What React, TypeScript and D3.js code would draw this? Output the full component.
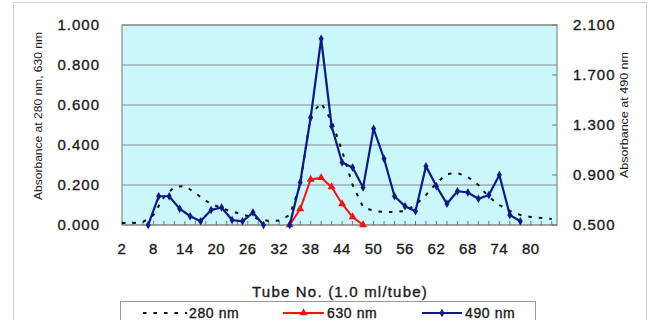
import React from 'react';
import * as d3 from 'd3';

// 280 nm (left axis), every 2 tubes
const tubes280 = [2, 4, 6, 8, 10, 12, 14, 16, 18, 20, 22, 24, 26, 28, 30, 32, 34, 36, 38, 40, 42,
  44, 46, 48, 50, 52, 54, 56, 58, 60, 62, 64, 66, 68, 70, 72, 74, 76, 78, 80, 82, 84];
const abs280 = [0.01, 0.01, 0.015, 0.05, 0.14, 0.19, 0.195, 0.16, 0.12, 0.095, 0.075, 0.06, 0.045,
  0.03, 0.02, 0.022, 0.05, 0.2, 0.55, 0.61, 0.52, 0.37, 0.2, 0.09, 0.07, 0.065, 0.065, 0.07, 0.1,
  0.15, 0.21, 0.255, 0.26, 0.24, 0.2, 0.14, 0.1, 0.07, 0.05, 0.04, 0.035, 0.03];

// 630 nm (left axis)
const tubes630 = [34, 36, 38, 40, 42, 44, 46, 48];
const abs630 = [0, 0.08, 0.228, 0.236, 0.19, 0.105, 0.04, 0];

// 490 nm (right axis); null = no reading
const tubes490 = [7, 9, 11, 13, 15, 17, 19, 21, 23, 25, 27, 29, 31,
  34, 36, 38, 40, 42, 44, 46, 48, 50, 52, 54, 56, 58, 60, 62, 64, 66, 68, 70, 72, 74, 76, 78];
const abs490: (number | null)[] = [0.5, 0.73, 0.73, 0.63, 0.57, 0.53, 0.62, 0.64, 0.54, 0.53, 0.6, 0.5, null,
  0.5, 0.84, 1.36, 1.99, 1.29, 1.0, 0.96, 0.8, 1.27, 1.03, 0.73, 0.65, 0.61, 0.97, 0.81, 0.67, 0.77,
  0.76, 0.71, 0.74, 0.9, 0.58, 0.53];

const leftTicks = [0, 0.2, 0.4, 0.6, 0.8, 1.0];
const rightTicks = [0.5, 0.9, 1.3, 1.7, 2.1];
const xLabels = [2, 8, 14, 20, 26, 32, 38, 44, 50, 56, 62, 68, 74, 80];
const xMinorTicks = d3.range(2, 86, 2);

const W = 656, H = 320;
const L = 122, R = 557, T = 25, B = 225;
const FONT = "'Liberation Sans', Arial, sans-serif";
const BLUE = '#0d1a8c';
const RED = '#ff1010';
const INK = '#1a1a1a';

export default function App() {
  const x = d3.scaleLinear().domain([2, 85]).range([L, R]);
  const yL = d3.scaleLinear().domain([0, 1]).range([B, T]);
  const yR = d3.scaleLinear().domain([0.5, 2.1]).range([B, T]);
  const fmt = d3.format('.3f');

  const pts280 = tubes280.map((t, i) => [t, abs280[i]] as [number, number]);
  const pts630 = tubes630.map((t, i) => [t, abs630[i]] as [number, number]);
  const pts490 = tubes490.map((t, i) => [t, abs490[i]] as [number, number | null]);

  const lineL = d3.line<[number, number]>().x(d => x(d[0])).y(d => yL(d[1]));
  const lineR = d3.line<[number, number | null]>()
    .defined(d => d[1] != null)
    .x(d => x(d[0])).y(d => yR(d[1] as number));

  const tri = d3.symbol().type(d3.symbolTriangle).size(28)() as string;
  const dia = d3.symbol().type(d3.symbolDiamond).size(22)() as string;

  // slightly heavier labels, like the blurred original
  const heavy = { fill: INK, stroke: INK, strokeWidth: 0.35 };

  return (
    <div style={{ position: 'fixed', left: 0, top: 0 }}>
      <svg width={W} height={H} style={{ display: 'block', fontFamily: FONT }}>
        <defs>
          <clipPath id="plot">
            <rect x={L} y={T} width={R - L} height={B - T} />
          </clipPath>
        </defs>
        <rect x={0} y={0} width={W} height={H} fill="#fff" />
        <rect x={13.5} y={2.5} width={633} height={330} fill="#fff" stroke="#cfcfcf" />

        {/* plot area */}
        <rect x={L} y={T} width={R - L} height={B - T} fill="#c9f7fb" />
        {leftTicks.map(v => (
          <line key={v} x1={L} x2={R} y1={yL(v)} y2={yL(v)} stroke="#8a8a8a" strokeWidth={1.2} />
        ))}
        <rect x={L} y={T} width={R - L} height={B - T} fill="none" stroke="#8a8a8a" strokeWidth={1.2} />
        {xMinorTicks.map(t => (
          <line key={t} x1={x(t)} x2={x(t)} y1={B} y2={B - 4} stroke="#777" />
        ))}
        {rightTicks.map(v => (
          <line key={v} x1={R - 5} x2={R} y1={yR(v)} y2={yR(v)} stroke="#777" />
        ))}

        {/* series */}
        <g clipPath="url(#plot)">
          <path d={lineL(pts280) || ''} fill="none" stroke="#111" strokeWidth={2} strokeDasharray="3.5 7" />
          <path d={lineL(pts630) || ''} fill="none" stroke={RED} strokeWidth={2} />
          <path d={lineR(pts490) || ''} fill="none" stroke={BLUE} strokeWidth={2.2} />
        </g>
        {pts630.map((d, i) => (
          <path key={i} d={tri} transform={`translate(${x(d[0])},${yL(d[1])})`} fill={RED} />
        ))}
        {pts490.filter(d => d[1] != null).map((d, i) => (
          <path key={i} d={dia} transform={`translate(${x(d[0])},${yR(d[1] as number)})`} fill={BLUE} />
        ))}

        {/* left axis */}
        {leftTicks.map(v => (
          <text key={v} x={100} y={yL(v) + 5} textAnchor="end" fontSize={15} letterSpacing={1} {...heavy}>
            {fmt(v)}
          </text>
        ))}
        <text transform={`translate(42,116) rotate(-90)`} textAnchor="middle" fontSize={10}
          textLength={168} lengthAdjust="spacingAndGlyphs" fill={INK}>
          Absorbance at 280 nm, 630 nm
        </text>

        {/* right axis */}
        {rightTicks.map(v => (
          <text key={v} x={573} y={yR(v) + 5} textAnchor="start" fontSize={15} letterSpacing={1} {...heavy}>
            {fmt(v)}
          </text>
        ))}
        <text transform={`translate(628,115) rotate(-90)`} textAnchor="middle" fontSize={10}
          textLength={126} lengthAdjust="spacingAndGlyphs" fill={INK}>
          Absorbance at 490 nm
        </text>

        {/* x axis */}
        {xLabels.map(t => (
          <text key={t} x={x(t)} y={254} textAnchor="middle" fontSize={15} letterSpacing={0.5} {...heavy}>
            {t}
          </text>
        ))}
        <text x={340} y={297} textAnchor="middle" fontSize={15} letterSpacing={1.2} {...heavy}>
          Tube No. (1.0 ml/tube)
        </text>

        {/* legend */}
        <rect x={120.5} y={301.5} width={415} height={40} fill="#fff" stroke="#999" />
        <line x1={143} x2={187} y1={313} y2={313} stroke="#111" strokeWidth={2} strokeDasharray="3.5 7" />
        <text x={189} y={318} fontSize={14} letterSpacing={0.6} {...heavy}>280 nm</text>
        <line x1={283} x2={324} y1={313} y2={313} stroke={RED} strokeWidth={2} />
        <path d={tri} transform="translate(303.5,313)" fill={RED} />
        <text x={327} y={318} fontSize={14} letterSpacing={0.6} {...heavy}>630 nm</text>
        <line x1={422} x2={462} y1={313} y2={313} stroke={BLUE} strokeWidth={2} />
        <path d={dia} transform="translate(442,313)" fill={BLUE} />
        <text x={465} y={318} fontSize={14} letterSpacing={0.6} {...heavy}>490 nm</text>
      </svg>
    </div>
  );
}
